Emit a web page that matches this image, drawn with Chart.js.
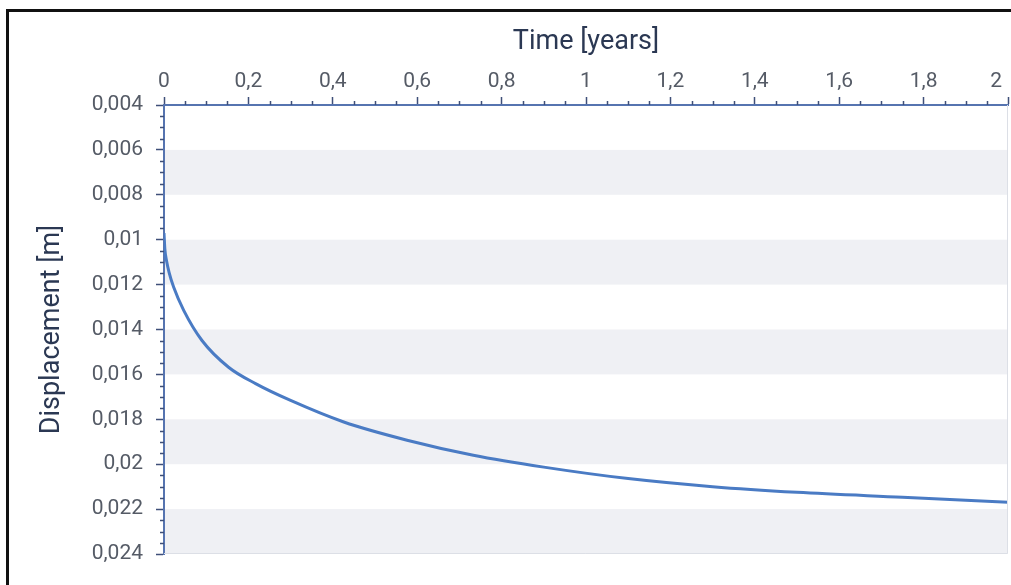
<!DOCTYPE html>
<html>
<head>
<meta charset="utf-8">
<script src="https://cdn.jsdelivr.net/npm/chart.js@4.4.1/dist/chart.umd.min.js"></script>
<style>
    html, body { margin: 0; padding: 0; background: #fff; overflow: hidden; }
    body { width: 1011px; height: 585px; position: relative; }
    .frame {
        position: absolute; left: 6px; top: 9px;
        right: -40px; bottom: -40px;
        border-left: 3px solid #111;
        border-top: 3px solid #111;
    }
    #chart { position: absolute; left: 0; top: 0; }
</style>
</head>
<body>
<div class="frame"></div>
<canvas id="chart" width="1011" height="585"></canvas>
<script>
// curve
const timeYears = [0, 0.002, 0.006, 0.012, 0.023, 0.047, 0.09, 0.153, 0.217, 0.3, 0.426, 0.576, 0.733, 0.9, 1.1, 1.3, 1.5, 1.75, 2.0];
const displacement = [0.0097, 0.01041, 0.01094, 0.01145, 0.01212, 0.01316, 0.01449, 0.01568, 0.01641, 0.01716, 0.01812, 0.01893, 0.0196, 0.02013, 0.02064, 0.021, 0.02125, 0.02147, 0.02169];

// axis ticks
const xMajorTicks = [0, 0.2, 0.4, 0.6, 0.8, 1, 1.2, 1.4, 1.6, 1.8, 2];
const yMajorTicks = [0.004, 0.006, 0.008, 0.01, 0.012, 0.014, 0.016, 0.018, 0.02, 0.022, 0.024];
const xMinorStep = 0.05;
const yMinorStep = 0.0005;

const AXIS_COLOR = '#5674b0';
const TICK_COLOR = '#3f4f78';
const LABEL_COLOR = '#555b66';
const TITLE_COLOR = '#2b3853';
const BAND_COLOR = '#eff0f4';

function fmt(v) {
    return String(parseFloat(v.toFixed(4))).replace('.', ',');
}

const bandsAndMinorTicks = {
    id: 'bandsAndMinorTicks',
    beforeDraw(chart) {
        const { ctx, chartArea, scales } = chart;
        ctx.save();
        ctx.fillStyle = BAND_COLOR;
        for (let i = 1; i < yMajorTicks.length - 1; i += 2) {
            const y1 = scales.y.getPixelForValue(yMajorTicks[i]);
            const y2 = scales.y.getPixelForValue(yMajorTicks[i + 1]);
            ctx.fillRect(chartArea.left, y1, chartArea.right - chartArea.left, y2 - y1);
        }
        ctx.restore();
    },
    afterDraw(chart) {
        const { ctx, chartArea, scales } = chart;
        ctx.save();
        // light frame on right and bottom of the plot
        ctx.strokeStyle = '#dcdfe6';
        ctx.lineWidth = 1;
        ctx.beginPath();
        ctx.moveTo(chartArea.right - 0.5, chartArea.top);
        ctx.lineTo(chartArea.right - 0.5, chartArea.bottom - 0.5);
        ctx.lineTo(chartArea.left, chartArea.bottom - 0.5);
        ctx.stroke();

        // minor ticks
        ctx.strokeStyle = TICK_COLOR;
        ctx.lineWidth = 1.5;
        ctx.beginPath();
        const xs = scales.x;
        const nx = Math.round((xs.max - xs.min) / xMinorStep);
        for (let k = 0; k <= nx; k++) {
            if (k % 4 === 0) continue;
            const px = Math.round(xs.getPixelForValue(xs.min + k * xMinorStep)) + 0.5;
            ctx.moveTo(px, chartArea.top);
            ctx.lineTo(px, chartArea.top - 4);
        }
        const ys = scales.y;
        const ny = Math.round((ys.max - ys.min) / yMinorStep);
        for (let k = 0; k <= ny; k++) {
            if (k % 4 === 0) continue;
            const py = Math.round(ys.getPixelForValue(ys.min + k * yMinorStep)) + 0.5;
            ctx.moveTo(chartArea.left, py);
            ctx.lineTo(chartArea.left - 4, py);
        }
        ctx.stroke();
        ctx.restore();
    }
};

new Chart(document.getElementById('chart'), {
    type: 'line',
    data: {
        datasets: [{
            data: timeYears.map((t, i) => ({ x: t, y: displacement[i] })),
            borderColor: '#4a7bc4',
            borderWidth: 3,
            pointRadius: 0,
            cubicInterpolationMode: 'monotone',
            fill: false
        }]
    },
    options: {
        responsive: false,
        animation: false,
        events: [],
        layout: { padding: { left: 0, top: 0, right: 3, bottom: 31 } },
        plugins: {
            legend: { display: false },
            tooltip: { enabled: false }
        },
        scales: {
            x: {
                type: 'linear',
                position: 'top',
                min: 0,
                max: 2,
                afterBuildTicks: s => { s.ticks = xMajorTicks.map(v => ({ value: v })); },
                afterFit: s => { s.height = 105; s.paddingLeft = 0; s.paddingRight = 0; },
                ticks: {
                    autoSkip: false,
                    maxRotation: 0,
                    padding: 3,
                    color: LABEL_COLOR,
                    font: { family: 'Roboto', size: 21 },
                    // last label sits inside the plot edge, like the original
                    callback: v => v === 2 ? fmt(v) + '\u2007\u2007' : fmt(v)
                },
                grid: {
                    drawOnChartArea: false,
                    drawTicks: true,
                    tickLength: 8,
                    tickColor: TICK_COLOR,
                    tickWidth: 1.5
                },
                border: { color: AXIS_COLOR, width: 2 },
                title: {
                    display: true,
                    text: 'Time [years]',
                    color: TITLE_COLOR,
                    font: { family: 'Roboto', size: 27 },
                    padding: { top: 26, bottom: 0 }
                }
            },
            y: {
                type: 'linear',
                reverse: true,
                min: 0.004,
                max: 0.024,
                afterBuildTicks: s => { s.ticks = yMajorTicks.map(v => ({ value: v })); },
                afterFit: s => { s.width = 164; },
                ticks: {
                    autoSkip: false,
                    padding: 13,
                    color: LABEL_COLOR,
                    font: { family: 'Roboto', size: 21 },
                    callback: v => fmt(v)
                },
                grid: {
                    drawOnChartArea: false,
                    drawTicks: true,
                    tickLength: 8,
                    tickColor: TICK_COLOR,
                    tickWidth: 1.5
                },
                border: { color: AXIS_COLOR, width: 2 },
                title: {
                    display: true,
                    text: 'Displacement [m]',
                    color: TITLE_COLOR,
                    font: { family: 'Roboto', size: 27 },
                    padding: { top: 36, bottom: 0 }
                }
            }
        }
    },
    plugins: [bandsAndMinorTicks]
});
</script>
</body>
</html>
